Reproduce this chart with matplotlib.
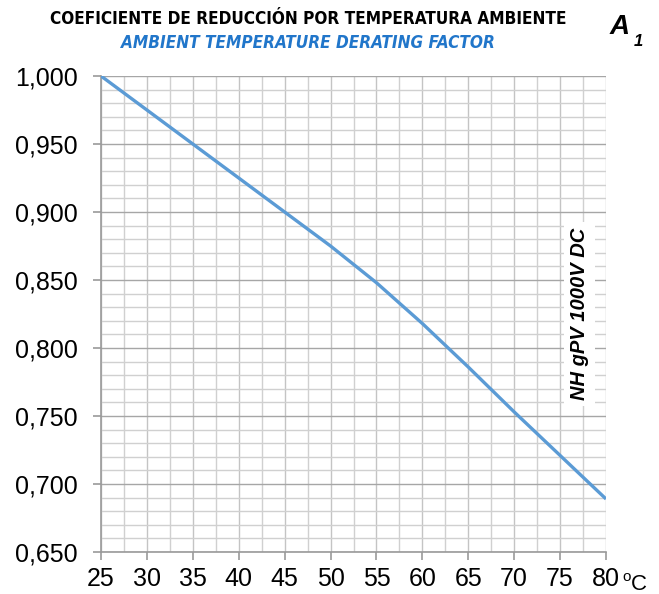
import matplotlib
matplotlib.use("Agg")
import matplotlib.pyplot as plt
from matplotlib.ticker import MultipleLocator, FuncFormatter

temps = [25, 30, 35, 40, 45, 50, 55, 60, 65, 70, 75, 80]
factor = [1.000, 0.975, 0.950, 0.925, 0.900, 0.875, 0.848, 0.818, 0.786, 0.753, 0.721, 0.689]

title_es = "COEFICIENTE DE REDUCCIÓN POR TEMPERATURA AMBIENTE"
title_en = "AMBIENT TEMPERATURE DERATING FACTOR"
series_label = "NH gPV 1000V DC"

W, H = 659, 594
fig = plt.figure(figsize=(W / 100, H / 100), dpi=100)
ax = fig.add_axes([101 / W, 1 - 552 / H, (606 - 101) / W, (552 - 76) / H])

ax.set_xlim(25, 80)
ax.set_ylim(0.65, 1.0)

ax.xaxis.set_major_locator(MultipleLocator(5))
ax.xaxis.set_minor_locator(MultipleLocator(2.5))
ax.yaxis.set_major_locator(MultipleLocator(0.05))
ax.yaxis.set_minor_locator(MultipleLocator(0.01))

ax.grid(which="minor", axis="both", color="#d0d0d0", lw=1.0)
ax.grid(which="major", axis="x", color="#c4c4c4", lw=1.0)
ax.grid(which="major", axis="y", color="#a6a6a6", lw=1.0)
ax.set_axisbelow(True)

for s in ["top", "right"]:
    ax.spines[s].set_visible(False)
for s in ["left", "bottom"]:
    ax.spines[s].set_color("#9a9a9a")
    ax.spines[s].set_linewidth(1.2)

ax.tick_params(which="major", length=6, width=1.2, color="#9a9a9a",
               labelsize=18, pad=5)
ax.tick_params(axis="y", which="major", pad=11)
ax.tick_params(which="minor", length=0)
ax.yaxis.set_major_formatter(FuncFormatter(lambda v, p: f"{v:.3f}".replace(".", ",")))
for lbl in ax.get_xticklabels() + ax.get_yticklabels():
    lbl.set_fontfamily(["Liberation Sans", "DejaVu Sans"])

ax.plot(temps, factor, color="#5B9BD5", lw=2.4, solid_capstyle="butt",
        solid_joinstyle="round", zorder=3)

ax.text(77.1, 0.825, series_label, rotation=90, ha="center", va="center",
        fontsize=14.5, fontweight="bold", fontstyle="italic",
        family=["Liberation Sans", "DejaVu Sans"],
        bbox=dict(facecolor="white", edgecolor="none", pad=4), zorder=4)

fig.text(308 / W, 1 - 19 / H, title_es, ha="center", va="center", fontsize=12.3,
         fontweight="bold", fontstretch="condensed", family=["DejaVu Sans"])
fig.text(308 / W, 1 - 43 / H, title_en, ha="center", va="center", fontsize=12.3,
         fontweight="bold", fontstyle="italic", fontstretch="condensed", color="#2176CA",
         family=["DejaVu Sans"])
fig.text(610 / W, 1 - 27 / H, "A", ha="left", va="center", fontsize=20,
         fontweight="bold", fontstyle="italic", family=["Liberation Sans", "DejaVu Sans"])
fig.text(634 / W, 1 - 41 / H, "1", ha="left", va="center", fontsize=12,
         fontweight="bold", fontstyle="italic", family=["Liberation Sans", "DejaVu Sans"])

fig.text(622 / W, 1 - 577 / H, "o", ha="left", va="center", fontsize=11,
         family=["Liberation Sans", "DejaVu Sans"])
fig.text(631 / W, 1 - 584 / H, "C", ha="left", va="center", fontsize=16,
         family=["Liberation Sans", "DejaVu Sans"])

fig.savefig("out.png", dpi=100)
